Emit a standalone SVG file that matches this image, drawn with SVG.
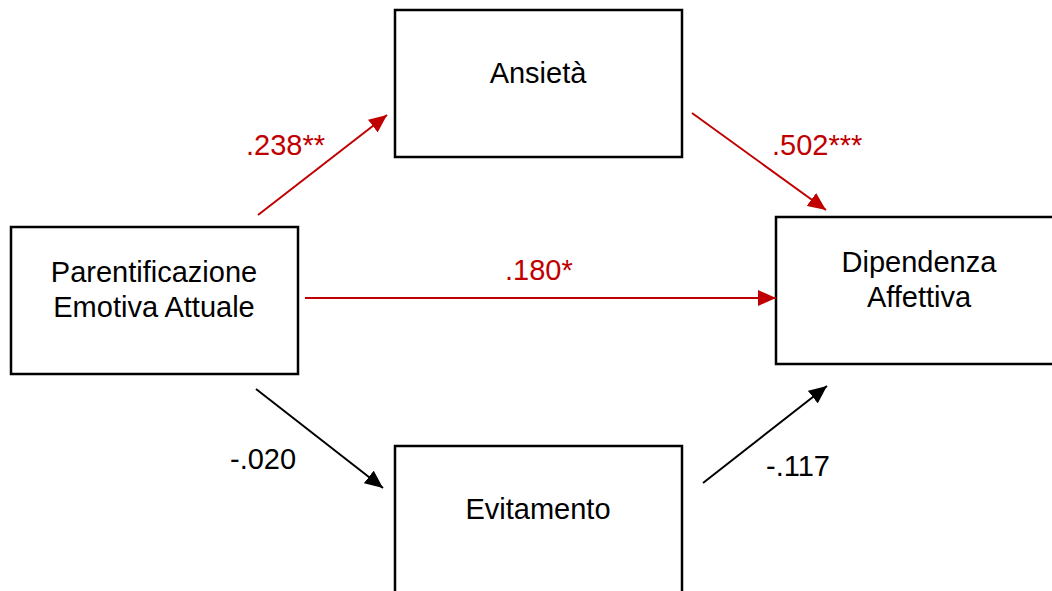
<svg xmlns="http://www.w3.org/2000/svg" width="1052" height="591" viewBox="0 0 1052 591">
<style>
.box{fill:#fff;stroke:#000;stroke-width:2.5}
.t{font-family:"Liberation Sans",Arial,sans-serif;font-size:29px;fill:#000;text-anchor:middle}
.lab{font-family:"Liberation Sans",Arial,sans-serif;font-size:29px}
.red{fill:#C00000}
.blk{fill:#000}
.cr{stroke:#C00000;stroke-width:2;fill:none}
.cb{stroke:#000;stroke-width:2;fill:none}
</style>
<defs>
<marker id="ar" markerUnits="userSpaceOnUse" markerWidth="20" markerHeight="16" refX="18" refY="8" orient="auto">
<path d="M0,0 L18,8 L0,16 Z" fill="#C00000"/>
</marker>
<marker id="ab" markerUnits="userSpaceOnUse" markerWidth="20" markerHeight="16" refX="18" refY="8" orient="auto">
<path d="M0,0 L18,8 L0,16 Z" fill="#000"/>
</marker>
</defs>
<rect width="1052" height="591" fill="#fff"/>
<g id="ansieta">
<rect class="box" x="395" y="10" width="287" height="147"/>
<text class="t" x="538" y="83">Ansietà</text>
</g>
<g id="parentificazione">
<rect class="box" x="11" y="227" width="287" height="147"/>
<text class="t" x="154" y="282">Parentificazione</text>
<text class="t" x="154" y="317">Emotiva Attuale</text>
</g>
<g id="dipendenza">
<rect class="box" x="776" y="217" width="287" height="147"/>
<text class="t" x="919" y="272">Dipendenza</text>
<text class="t" x="919" y="307">Affettiva</text>
</g>
<g id="evitamento">
<rect class="box" x="395" y="446" width="287" height="147"/>
<text class="t" x="538" y="519">Evitamento</text>
</g>
<g id="connectors">
<line class="cr" x1="258" y1="215" x2="387" y2="115" marker-end="url(#ar)"/>
<line class="cr" x1="692" y1="113" x2="826" y2="210" marker-end="url(#ar)"/>
<line class="cr" x1="305" y1="298" x2="776" y2="298" marker-end="url(#ar)"/>
<line class="cb" x1="256" y1="389" x2="383" y2="488" marker-end="url(#ab)"/>
<line class="cb" x1="703" y1="483" x2="827" y2="386" marker-end="url(#ab)"/>
</g>
<g id="labels">
<text class="lab red" x="246" y="155">.238**</text>
<text class="lab red" x="772" y="155">.502***</text>
<text class="lab red" x="505" y="280">.180*</text>
<text class="lab blk" x="230" y="469">-.020</text>
<text class="lab blk" x="766" y="476">-.117</text>
</g>
</svg>
